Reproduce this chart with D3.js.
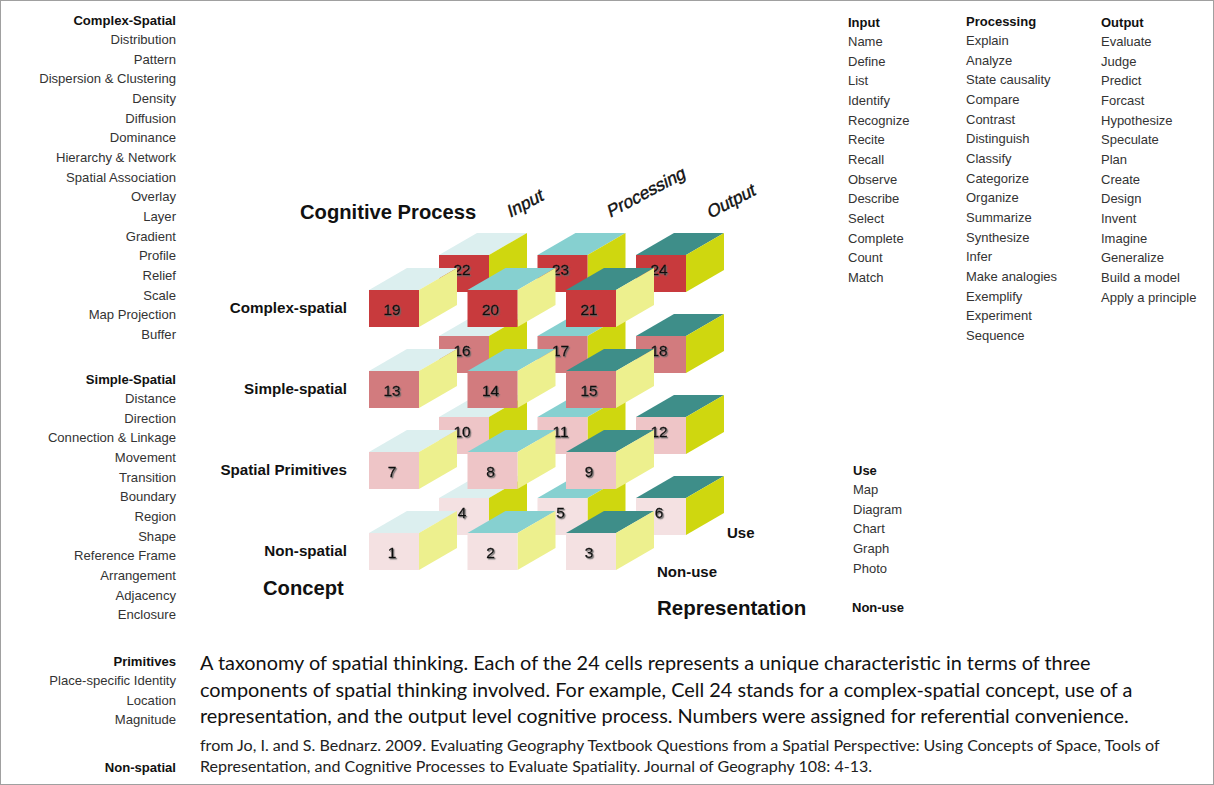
<!DOCTYPE html>
<html><head><meta charset="utf-8">
<script src="https://cdn.jsdelivr.net/npm/d3@7"></script>
<style>
html,body{margin:0;padding:0;background:#fff;}
svg{display:block;font-family:"Liberation Sans",Arial,sans-serif;}
</style></head>
<body>
<svg id="c" width="1214" height="785"></svg>
<script>
// ---- data ----
const levels = ["Non-spatial", "Spatial Primitives", "Simple-spatial", "Complex-spatial"];
const processes = ["Input", "Processing", "Output"];
const representations = ["Non-use", "Use"];
const cellNumbers = [1,2,3,4,5,6,7,8,9,10,11,12,13,14,15,16,17,18,19,20,21,22,23,24];

const conceptHeaders = ["Complex-Spatial", "Simple-Spatial", "Primitives", "Non-spatial"];
const complexSpatialList = ["Distribution","Pattern","Dispersion & Clustering","Density","Diffusion","Dominance","Hierarchy & Network","Spatial Association","Overlay","Layer","Gradient","Profile","Relief","Scale","Map Projection","Buffer"];
const simpleSpatialList = ["Distance","Direction","Connection & Linkage","Movement","Transition","Boundary","Region","Shape","Reference Frame","Arrangement","Adjacency","Enclosure"];
const primitivesList = ["Place-specific Identity","Location","Magnitude"];
const nonSpatialList = [];

const inputList = ["Name","Define","List","Identify","Recognize","Recite","Recall","Observe","Describe","Select","Complete","Count","Match"];
const processingList = ["Explain","Analyze","State causality","Compare","Contrast","Distinguish","Classify","Categorize","Organize","Summarize","Synthesize","Infer","Make analogies","Exemplify","Experiment","Sequence"];
const outputList = ["Evaluate","Judge","Predict","Forcast","Hypothesize","Speculate","Plan","Create","Design","Invent","Imagine","Generalize","Build a model","Apply a principle"];
const useList = ["Map","Diagram","Chart","Graph","Photo"];
const nonUseList = [];

const captionLines = [
  "A taxonomy of spatial thinking. Each of the 24 cells represents a unique characteristic in terms of three",
  "components of spatial thinking involved. For example, Cell 24 stands for a complex-spatial concept, use of a",
  "representation, and the output level cognitive process. Numbers were assigned for referential convenience."
];
const citationLines = [
  "from Jo, I. and S. Bednarz. 2009. Evaluating Geography Textbook Questions from a Spatial Perspective: Using Concepts of Space, Tools of",
  "Representation, and Cognitive Processes to Evaluate Spatiality. Journal of Geography 108: 4-13."
];

// ---- drawing ----
const svg = d3.select("#c");
svg.append("rect").attr("x",0.5).attr("y",0.5).attr("width",1213).attr("height",784)
  .attr("fill","#fff").attr("stroke","#a0a0a0");

const defs = svg.append("defs");
const f = defs.append("filter").attr("id","ts").attr("x","-30%").attr("y","-30%").attr("width","160%").attr("height","160%");
f.append("feDropShadow").attr("dx",1.2).attr("dy",1.2).attr("stdDeviation",0.6).attr("flood-color","#666").attr("flood-opacity",0.9);

const x = d3.scalePoint().domain(processes).range([369, 566]);
const y = d3.scalePoint().domain(levels).range([533, 290]);
const r = d3.scalePoint().domain(representations).range([0, 1]);
const front = d3.scaleOrdinal(levels, ["#f4e1e2", "#eec5c7", "#d27b7e", "#c83a3d"]);
const topC = d3.scaleOrdinal(processes, ["#dcefef", "#86d0d0", "#3e8e89"]);
const side = d3.scaleOrdinal(representations, ["#edf08e", "#cfd70f"]);

const W = 50, H = 37, DX = 38, DY = -22, BX = 70, BY = -35;

const cells = d3.cross(levels, representations, processes).map((d, i) => ({
  level: d[0], rep: d[1], proc: d[2], n: cellNumbers[i]
}));
cells.sort((a, b) => r(b.rep) - r(a.rep));

const g = svg.append("g");
cells.forEach(c => {
  const x0 = x(c.proc) + BX * r(c.rep);
  const y0 = y(c.level) + BY * r(c.rep);
  const cg = g.append("g");
  cg.append("polygon")
    .attr("points", [[x0, y0], [x0 + W, y0], [x0 + W + DX, y0 + DY], [x0 + DX, y0 + DY]].join(" "))
    .attr("fill", topC(c.proc));
  cg.append("polygon")
    .attr("points", [[x0 + W, y0], [x0 + W + DX, y0 + DY], [x0 + W + DX, y0 + DY + H], [x0 + W, y0 + H]].join(" "))
    .attr("fill", side(c.rep));
  cg.append("rect").attr("x", x0).attr("y", y0).attr("width", W).attr("height", H)
    .attr("fill", front(c.level));
  cg.append("text").attr("x", x0 + 23).attr("y", y0 + H / 2 + 6 - 5 * r(c.rep))
    .attr("text-anchor", "middle").attr("font-size", 15.5).attr("fill", "#111")
    .attr("stroke", "#111").attr("stroke-width", 0.3)
    .attr("filter", "url(#ts)").text(c.n);
});

// row labels
svg.append("g").selectAll("text").data(levels).join("text")
  .attr("x", 347).attr("y", d => y(d) + 23).attr("text-anchor", "end")
  .attr("font-size", 15.2).attr("font-weight", "bold").attr("fill", "#111").text(d => d);

svg.append("text").attr("x", 300).attr("y", 219).attr("font-size", 20.2).attr("font-weight", "bold").attr("fill", "#111").text("Cognitive Process");
svg.append("text").attr("x", 263).attr("y", 595).attr("font-size", 20.2).attr("font-weight", "bold").attr("fill", "#111").text("Concept");
svg.append("text").attr("x", 657).attr("y", 615).attr("font-size", 20.5).attr("font-weight", "bold").attr("fill", "#111").text("Representation");
svg.append("text").attr("x", 727).attr("y", 538).attr("font-size", 15).attr("font-weight", "bold").attr("fill", "#111").text(representations[1]);
svg.append("text").attr("x", 657).attr("y", 577).attr("font-size", 15).attr("font-weight", "bold").attr("fill", "#111").text(representations[0]);

// rotated process labels
const procAnchors = [[510, 218], [610, 218], [710, 219]];
svg.append("g").selectAll("text").data(processes).join("text")
  .attr("transform", (d, i) => `translate(${procAnchors[i][0]},${procAnchors[i][1]}) rotate(-28) skewX(-12)`)
  .attr("font-size", 17.5).attr("fill", "#111")
  .attr("stroke", "#111").attr("stroke-width", 0.4).text(d => d);

// left list
const STEP = 19.65;
function leftBlock(header, items, y0) {
  const gg = svg.append("g").attr("font-size", 13.1).attr("text-anchor", "end");
  gg.append("text").attr("x", 176).attr("y", y0).attr("font-weight", "bold").attr("fill", "#111").text(header);
  gg.selectAll("text.it").data(items).join("text").attr("class", "it")
    .attr("x", 176).attr("y", (d, i) => y0 + STEP * (i + 1)).attr("fill", "#333").text(d => d);
}
leftBlock(conceptHeaders[0], complexSpatialList, 24.5);
leftBlock(conceptHeaders[1], simpleSpatialList, 383.5);
leftBlock(conceptHeaders[2], primitivesList, 665.5);
leftBlock(conceptHeaders[3], nonSpatialList, 771.5);

function rightBlock(header, items, x0, y0) {
  const gg = svg.append("g").attr("font-size", 13);
  gg.append("text").attr("x", x0).attr("y", y0).attr("font-weight", "bold").attr("fill", "#111").text(header);
  gg.selectAll("text.it").data(items).join("text").attr("class", "it")
    .attr("x", x0).attr("y", (d, i) => y0 + STEP * (i + 1)).attr("fill", "#333").text(d => d);
}
rightBlock(processes[0], inputList, 848, 26.5);
rightBlock(processes[1], processingList, 966, 25.5);
rightBlock(processes[2], outputList, 1101, 26.5);
rightBlock(representations[1], useList, 853, 474.5);
rightBlock(representations[0], nonUseList, 852, 611.5);

// caption
const cap = svg.append("g").attr("font-family", "Lato, 'Open Sans', sans-serif").attr("fill", "#111");
cap.selectAll("text.cl").data(captionLines).join("text").attr("class", "cl")
  .attr("x", 200).attr("y", (d, i) => 670 + 26.5 * i).attr("font-size", 19).text(d => d);
cap.selectAll("text.ci").data(citationLines).join("text").attr("class", "ci")
  .attr("x", 200).attr("y", (d, i) => 751 + 21 * i).attr("font-size", 14).attr("fill", "#222").text(d => d);
// fit caption widths
const cl0 = cap.select("text.cl").node();
const s1 = 891 / cl0.getComputedTextLength();
cap.selectAll("text.cl").attr("font-size", 19 * s1);
const ci0 = cap.select("text.ci").node();
const s2 = 961 / ci0.getComputedTextLength();
cap.selectAll("text.ci").attr("font-size", 14 * s2);
</script>
</body></html>
